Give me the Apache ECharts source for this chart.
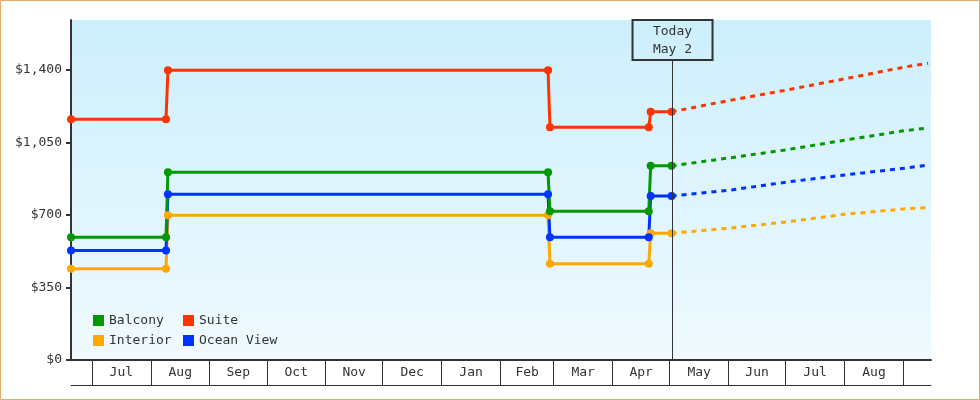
<!DOCTYPE html>
<html>
<head>
<meta charset="utf-8">
<script src="https://cdn.jsdelivr.net/npm/echarts@6/dist/echarts.min.js"></script>
<style>
html,body{margin:0;padding:0;background:#fff;}
#chart{width:980px;height:400px;}
</style>
</head>
<body>
<div id="chart"></div>
<script>
// ---- data ----
const dates = ['2022-06-20','2022-08-09','2022-08-10','2023-02-26','2023-02-27','2023-04-20','2023-04-21','2023-05-02'];
const balcony   = [592, 592, 906, 906, 718, 718, 937, 937];
const suite     = [1162, 1162, 1399, 1399, 1123, 1123, 1198, 1198];
const interior  = [441, 441, 699, 699, 465, 465, 612, 612];
const oceanView = [528, 528, 800, 800, 592, 592, 791, 791];

const forecastDates = ['2023-05-02','2023-06-01','2023-07-01','2023-08-01','2023-09-01','2023-09-14'];
const balconyForecast   = [937, 975, 1014, 1061, 1106, 1120];
const suiteForecast     = [1198, 1252, 1302, 1357, 1413, 1432];
const interiorForecast  = [612, 636, 666, 703, 729, 735];
const oceanViewForecast = [791, 819, 858, 893, 925, 941];

const monthStarts = ['2022-07-01','2022-08-01','2022-09-01','2022-10-01','2022-11-01','2022-12-01','2023-01-01',
  '2023-02-01','2023-03-01','2023-04-01','2023-05-01','2023-06-01','2023-07-01','2023-08-01','2023-09-01'];
const monthLabels = ['Jul','Aug','Sep','Oct','Nov','Dec','Jan','Feb','Mar','Apr','May','Jun','Jul','Aug'];
const yTicks = [0, 350, 700, 1050, 1400];
const todayDate = '2023-05-02';
const todayLabel = 'Today\nMay 2';

// ---- helpers ----
const FONT = "'DejaVu Sans Mono', monospace";
const DAY = 86400e3;
const ts = s => Date.UTC(+s.slice(0, 4), +s.slice(5, 7) - 1, +s.slice(8, 10));
const startTs = monthStarts.map(ts);
const midTs = monthLabels.map((_, i) => (startTs[i] + startTs[i + 1]) / 2);
const pairs = (ds, vs) => ds.map((d, i) => [ts(d), vs[i]]);

const colors = { Balcony: '#009900', Suite: '#FF3300', Interior: '#FFA800', 'Ocean View': '#0033FF' };
const xMin = ts('2022-06-20');
const xMax = ts('2023-09-15') + 0.5 * DAY;

function mainSeries(name, vals, extra) {
  return Object.assign({
    name, type: 'line', data: pairs(dates, vals),
    symbol: 'circle', symbolSize: 8, showSymbol: true,
    itemStyle: { color: colors[name] },
    lineStyle: { color: colors[name], width: 3 },
    emphasis: { disabled: true }, animation: false, clip: false
  }, extra || {});
}
function forecastSeries(name, vals) {
  return {
    name, type: 'line', data: pairs(forecastDates, vals),
    symbol: 'none', showSymbol: false,
    itemStyle: { color: colors[name] },
    lineStyle: { color: colors[name], width: 3, type: [5, 5] },
    emphasis: { disabled: true }, animation: false
  };
}

const chart = echarts.init(document.getElementById('chart'), null, { renderer: 'canvas' });
chart.setOption({
  animation: false,
  textStyle: { fontFamily: FONT },
  grid: {
    left: 71, right: 49, top: 20, bottom: 40, show: true, borderWidth: 0,
    backgroundColor: new echarts.graphic.LinearGradient(0, 0, 0, 1, [
      { offset: 0, color: '#CCEFFC' }, { offset: 1, color: '#F0FAFF' }
    ])
  },
  graphic: [{
    type: 'rect', shape: { x: 0.5, y: 0.5, width: 979, height: 399 },
    style: { fill: 'none', stroke: '#E9A964', lineWidth: 1 }, silent: true
  }],
  legend: {
    data: ['Balcony', 'Suite', 'Interior', 'Ocean View'],
    left: 93, top: 314, width: 200, padding: 0,
    icon: 'rect', itemWidth: 11, itemHeight: 11, itemGap: 7,
    textStyle: { fontFamily: FONT, fontSize: 13, color: '#333', width: 67, lineHeight: 11 },
    selectedMode: false
  },
  xAxis: [{
    type: 'value', min: xMin, max: xMax, position: 'bottom', scale: true,
    axisLine: { show: true, onZero: false, lineStyle: { color: '#333', width: 2 } },
    axisTick: { show: true, customValues: startTs, length: 25, inside: false, lineStyle: { color: '#333', width: 1 } },
    axisLabel: {
      show: true, customValues: midTs, margin: 5, fontFamily: FONT, fontSize: 13, color: '#333', lineHeight: 15,
      showMinLabel: true, showMaxLabel: true,
      formatter: v => { const i = midTs.indexOf(v); return i >= 0 ? monthLabels[i] : ''; }
    },
    splitLine: { show: false }
  }, {
    type: 'value', min: xMin, max: xMax, position: 'bottom', offset: 25, scale: true,
    axisLine: { show: true, onZero: false, lineStyle: { color: '#333', width: 1 } },
    axisTick: { show: false }, axisLabel: { show: false }, splitLine: { show: false }
  }],
  yAxis: {
    type: 'value', min: 0, max: 1641,
    axisLine: { show: true, lineStyle: { color: '#333', width: 2 } },
    axisTick: { show: true, customValues: yTicks, length: 5, lineStyle: { color: '#333', width: 2 } },
    axisLabel: {
      customValues: yTicks, margin: 9, fontFamily: FONT, fontSize: 13, color: '#333',
      formatter: v => '$' + Number(v).toLocaleString('en-US')
    },
    splitLine: { show: false }
  },
  series: [
    mainSeries('Interior', interior, {
      markLine: {
        silent: true, symbol: ['none', 'none'], animation: false,
        lineStyle: { color: '#333', width: 1, type: 'solid' },
        emphasis: { disabled: true },
        label: {
          show: true, position: 'end', distance: 0, formatter: todayLabel,
          fontFamily: FONT, fontSize: 13, lineHeight: 18, color: '#333',
          borderColor: '#333', borderWidth: 1, padding: [3, 0, 1, 0], width: 80, align: 'center',
          backgroundColor: 'transparent'
        },
        data: [[{ xAxis: ts(todayDate) + 0.5 * DAY, yAxis: 0 }, { xAxis: ts(todayDate) + 0.5 * DAY, yAxis: 1448 }]]
      }
    }),
    forecastSeries('Interior', interiorForecast),
    mainSeries('Ocean View', oceanView),
    forecastSeries('Ocean View', oceanViewForecast),
    mainSeries('Balcony', balcony),
    forecastSeries('Balcony', balconyForecast),
    mainSeries('Suite', suite),
    forecastSeries('Suite', suiteForecast)
  ]
});
</script>
</body>
</html>
